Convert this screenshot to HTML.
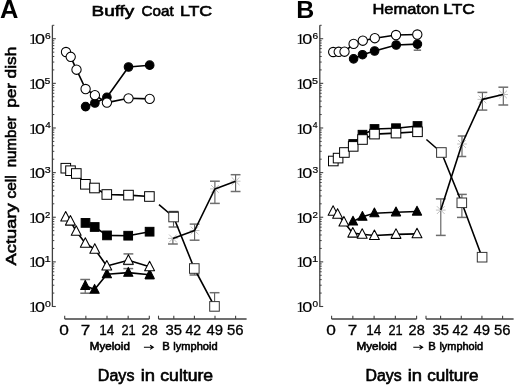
<!DOCTYPE html>
<html><head><meta charset="utf-8"><style>
html,body{margin:0;padding:0;background:#fff;}
svg{display:block;filter:grayscale(1) blur(0.3px);}
svg{font-family:"Liberation Sans",sans-serif;} text{fill:#000;}
</style></head><body>
<svg width="520" height="387" viewBox="0 0 520 387">
<rect width="520" height="387" fill="#fff"/>
<line x1="52.40" y1="25.29" x2="52.40" y2="307.10" stroke="#404040" stroke-width="1.3"/>
<line x1="52.40" y1="306.50" x2="55.80" y2="306.50" stroke="#404040" stroke-width="1.1"/>
<line x1="52.40" y1="261.87" x2="55.80" y2="261.87" stroke="#404040" stroke-width="1.1"/>
<line x1="52.40" y1="217.24" x2="55.80" y2="217.24" stroke="#404040" stroke-width="1.1"/>
<line x1="52.40" y1="172.61" x2="55.80" y2="172.61" stroke="#404040" stroke-width="1.1"/>
<line x1="52.40" y1="127.98" x2="55.80" y2="127.98" stroke="#404040" stroke-width="1.1"/>
<line x1="52.40" y1="83.35" x2="55.80" y2="83.35" stroke="#404040" stroke-width="1.1"/>
<line x1="52.40" y1="38.72" x2="55.80" y2="38.72" stroke="#404040" stroke-width="1.1"/>
<line x1="52.40" y1="293.07" x2="54.30" y2="293.07" stroke="#404040" stroke-width="1"/>
<line x1="52.40" y1="285.21" x2="54.30" y2="285.21" stroke="#404040" stroke-width="1"/>
<line x1="52.40" y1="279.63" x2="54.30" y2="279.63" stroke="#404040" stroke-width="1"/>
<line x1="52.40" y1="275.30" x2="54.30" y2="275.30" stroke="#404040" stroke-width="1"/>
<line x1="52.40" y1="271.77" x2="54.30" y2="271.77" stroke="#404040" stroke-width="1"/>
<line x1="52.40" y1="268.78" x2="54.30" y2="268.78" stroke="#404040" stroke-width="1"/>
<line x1="52.40" y1="266.20" x2="54.30" y2="266.20" stroke="#404040" stroke-width="1"/>
<line x1="52.40" y1="263.91" x2="54.30" y2="263.91" stroke="#404040" stroke-width="1"/>
<line x1="52.40" y1="248.44" x2="54.30" y2="248.44" stroke="#404040" stroke-width="1"/>
<line x1="52.40" y1="240.58" x2="54.30" y2="240.58" stroke="#404040" stroke-width="1"/>
<line x1="52.40" y1="235.00" x2="54.30" y2="235.00" stroke="#404040" stroke-width="1"/>
<line x1="52.40" y1="230.67" x2="54.30" y2="230.67" stroke="#404040" stroke-width="1"/>
<line x1="52.40" y1="227.14" x2="54.30" y2="227.14" stroke="#404040" stroke-width="1"/>
<line x1="52.40" y1="224.15" x2="54.30" y2="224.15" stroke="#404040" stroke-width="1"/>
<line x1="52.40" y1="221.57" x2="54.30" y2="221.57" stroke="#404040" stroke-width="1"/>
<line x1="52.40" y1="219.28" x2="54.30" y2="219.28" stroke="#404040" stroke-width="1"/>
<line x1="52.40" y1="203.81" x2="54.30" y2="203.81" stroke="#404040" stroke-width="1"/>
<line x1="52.40" y1="195.95" x2="54.30" y2="195.95" stroke="#404040" stroke-width="1"/>
<line x1="52.40" y1="190.37" x2="54.30" y2="190.37" stroke="#404040" stroke-width="1"/>
<line x1="52.40" y1="186.04" x2="54.30" y2="186.04" stroke="#404040" stroke-width="1"/>
<line x1="52.40" y1="182.51" x2="54.30" y2="182.51" stroke="#404040" stroke-width="1"/>
<line x1="52.40" y1="179.52" x2="54.30" y2="179.52" stroke="#404040" stroke-width="1"/>
<line x1="52.40" y1="176.94" x2="54.30" y2="176.94" stroke="#404040" stroke-width="1"/>
<line x1="52.40" y1="174.65" x2="54.30" y2="174.65" stroke="#404040" stroke-width="1"/>
<line x1="52.40" y1="159.18" x2="54.30" y2="159.18" stroke="#404040" stroke-width="1"/>
<line x1="52.40" y1="151.32" x2="54.30" y2="151.32" stroke="#404040" stroke-width="1"/>
<line x1="52.40" y1="145.74" x2="54.30" y2="145.74" stroke="#404040" stroke-width="1"/>
<line x1="52.40" y1="141.41" x2="54.30" y2="141.41" stroke="#404040" stroke-width="1"/>
<line x1="52.40" y1="137.88" x2="54.30" y2="137.88" stroke="#404040" stroke-width="1"/>
<line x1="52.40" y1="134.89" x2="54.30" y2="134.89" stroke="#404040" stroke-width="1"/>
<line x1="52.40" y1="132.31" x2="54.30" y2="132.31" stroke="#404040" stroke-width="1"/>
<line x1="52.40" y1="130.02" x2="54.30" y2="130.02" stroke="#404040" stroke-width="1"/>
<line x1="52.40" y1="114.55" x2="54.30" y2="114.55" stroke="#404040" stroke-width="1"/>
<line x1="52.40" y1="106.69" x2="54.30" y2="106.69" stroke="#404040" stroke-width="1"/>
<line x1="52.40" y1="101.11" x2="54.30" y2="101.11" stroke="#404040" stroke-width="1"/>
<line x1="52.40" y1="96.78" x2="54.30" y2="96.78" stroke="#404040" stroke-width="1"/>
<line x1="52.40" y1="93.25" x2="54.30" y2="93.25" stroke="#404040" stroke-width="1"/>
<line x1="52.40" y1="90.26" x2="54.30" y2="90.26" stroke="#404040" stroke-width="1"/>
<line x1="52.40" y1="87.68" x2="54.30" y2="87.68" stroke="#404040" stroke-width="1"/>
<line x1="52.40" y1="85.39" x2="54.30" y2="85.39" stroke="#404040" stroke-width="1"/>
<line x1="52.40" y1="69.92" x2="54.30" y2="69.92" stroke="#404040" stroke-width="1"/>
<line x1="52.40" y1="62.06" x2="54.30" y2="62.06" stroke="#404040" stroke-width="1"/>
<line x1="52.40" y1="56.48" x2="54.30" y2="56.48" stroke="#404040" stroke-width="1"/>
<line x1="52.40" y1="52.15" x2="54.30" y2="52.15" stroke="#404040" stroke-width="1"/>
<line x1="52.40" y1="48.62" x2="54.30" y2="48.62" stroke="#404040" stroke-width="1"/>
<line x1="52.40" y1="45.63" x2="54.30" y2="45.63" stroke="#404040" stroke-width="1"/>
<line x1="52.40" y1="43.05" x2="54.30" y2="43.05" stroke="#404040" stroke-width="1"/>
<line x1="52.40" y1="40.76" x2="54.30" y2="40.76" stroke="#404040" stroke-width="1"/>
<line x1="52.40" y1="25.29" x2="54.30" y2="25.29" stroke="#404040" stroke-width="1"/>
<line x1="64.70" y1="319.0" x2="149.30" y2="319.0" stroke="#404040" stroke-width="1.3"/>
<line x1="158.50" y1="319.0" x2="246.60" y2="319.0" stroke="#404040" stroke-width="1.3"/>
<line x1="64.70" y1="315.7" x2="64.70" y2="319.0" stroke="#404040" stroke-width="1.1"/>
<line x1="85.85" y1="315.7" x2="85.85" y2="319.0" stroke="#404040" stroke-width="1.1"/>
<line x1="107.00" y1="315.7" x2="107.00" y2="319.0" stroke="#404040" stroke-width="1.1"/>
<line x1="128.15" y1="315.7" x2="128.15" y2="319.0" stroke="#404040" stroke-width="1.1"/>
<line x1="149.30" y1="315.7" x2="149.30" y2="319.0" stroke="#404040" stroke-width="1.1"/>
<line x1="158.50" y1="315.7" x2="158.50" y2="319.0" stroke="#404040" stroke-width="1.1"/>
<line x1="173.80" y1="315.7" x2="173.80" y2="319.0" stroke="#404040" stroke-width="1.1"/>
<line x1="194.40" y1="315.7" x2="194.40" y2="319.0" stroke="#404040" stroke-width="1.1"/>
<line x1="215.00" y1="315.7" x2="215.00" y2="319.0" stroke="#404040" stroke-width="1.1"/>
<line x1="235.60" y1="315.7" x2="235.60" y2="319.0" stroke="#404040" stroke-width="1.1"/>
<polyline points="85.60,106.60 94.90,103.00 106.90,97.30 128.50,67.00 149.70,65.20" fill="none" stroke="#000" stroke-width="1.6" stroke-linejoin="round"/>
<polyline points="66.00,52.00 70.70,56.80 76.50,69.70 85.60,89.00 94.90,95.20 106.90,102.60 128.50,98.30 149.70,98.90" fill="none" stroke="#000" stroke-width="1.6" stroke-linejoin="round"/>
<polyline points="65.80,168.20 70.50,170.70 76.30,173.50 85.40,184.30 94.50,188.00 106.80,194.50 128.50,195.10 149.40,196.50" fill="none" stroke="#000" stroke-width="1.6" stroke-linejoin="round"/>
<polyline points="85.50,222.90 94.70,227.00 107.00,235.40 128.20,235.70 149.60,231.70" fill="none" stroke="#000" stroke-width="1.6" stroke-linejoin="round"/>
<polyline points="85.30,285.80 94.60,289.60 106.90,274.20 128.30,272.60 149.70,274.80" fill="none" stroke="#000" stroke-width="1.6" stroke-linejoin="round"/>
<polyline points="65.70,217.00 70.40,221.15 76.20,231.25 85.30,243.30 94.80,249.20 106.80,266.05 128.40,260.30 149.60,266.75" fill="none" stroke="#000" stroke-width="1.6" stroke-linejoin="round"/>
<line x1="128.40" y1="253.90" x2="128.40" y2="264.40" stroke="#5a5a5a" stroke-width="1.1"/>
<line x1="123.50" y1="253.90" x2="133.30" y2="253.90" stroke="#6e6e6e" stroke-width="1.5"/>
<line x1="123.50" y1="264.40" x2="133.30" y2="264.40" stroke="#6e6e6e" stroke-width="1.5"/>
<line x1="85.20" y1="279.50" x2="85.20" y2="293.20" stroke="#5a5a5a" stroke-width="1.1"/>
<line x1="80.30" y1="279.50" x2="90.10" y2="279.50" stroke="#6e6e6e" stroke-width="1.5"/>
<line x1="80.30" y1="293.20" x2="90.10" y2="293.20" stroke="#6e6e6e" stroke-width="1.5"/>
<line x1="128.30" y1="268.60" x2="128.30" y2="276.00" stroke="#5a5a5a" stroke-width="1.1"/>
<line x1="123.40" y1="268.60" x2="133.20" y2="268.60" stroke="#6e6e6e" stroke-width="1.5"/>
<line x1="149.70" y1="274.00" x2="149.70" y2="279.00" stroke="#5a5a5a" stroke-width="1.1"/>
<line x1="145.00" y1="279.00" x2="154.40" y2="279.00" stroke="#6e6e6e" stroke-width="1.5"/>
<circle cx="85.60" cy="106.60" r="4.3" fill="#000" stroke="#000" stroke-width="1.05"/>
<circle cx="94.90" cy="103.00" r="4.3" fill="#000" stroke="#000" stroke-width="1.05"/>
<circle cx="106.90" cy="97.30" r="4.3" fill="#000" stroke="#000" stroke-width="1.05"/>
<circle cx="128.50" cy="67.00" r="4.3" fill="#000" stroke="#000" stroke-width="1.05"/>
<circle cx="149.70" cy="65.20" r="4.3" fill="#000" stroke="#000" stroke-width="1.05"/>
<circle cx="66.00" cy="52.00" r="4.65" fill="#fff" stroke="#000" stroke-width="1.05"/>
<circle cx="70.70" cy="56.80" r="4.65" fill="#fff" stroke="#000" stroke-width="1.05"/>
<circle cx="76.50" cy="69.70" r="4.65" fill="#fff" stroke="#000" stroke-width="1.05"/>
<circle cx="85.60" cy="89.00" r="4.65" fill="#fff" stroke="#000" stroke-width="1.05"/>
<circle cx="94.90" cy="95.20" r="4.65" fill="#fff" stroke="#000" stroke-width="1.05"/>
<circle cx="106.90" cy="102.60" r="4.65" fill="#fff" stroke="#000" stroke-width="1.05"/>
<circle cx="128.50" cy="98.30" r="4.65" fill="#fff" stroke="#000" stroke-width="1.05"/>
<circle cx="149.70" cy="98.90" r="4.65" fill="#fff" stroke="#000" stroke-width="1.05"/>
<rect x="61.00" y="163.40" width="9.6" height="9.6" fill="#fff" stroke="#000" stroke-width="1.0"/>
<rect x="65.70" y="165.90" width="9.6" height="9.6" fill="#fff" stroke="#000" stroke-width="1.0"/>
<rect x="71.50" y="168.70" width="9.6" height="9.6" fill="#fff" stroke="#000" stroke-width="1.0"/>
<rect x="80.60" y="179.50" width="9.6" height="9.6" fill="#fff" stroke="#000" stroke-width="1.0"/>
<rect x="89.70" y="183.20" width="9.6" height="9.6" fill="#fff" stroke="#000" stroke-width="1.0"/>
<rect x="102.00" y="189.70" width="9.6" height="9.6" fill="#fff" stroke="#000" stroke-width="1.0"/>
<rect x="123.70" y="190.30" width="9.6" height="9.6" fill="#fff" stroke="#000" stroke-width="1.0"/>
<rect x="144.60" y="191.70" width="9.6" height="9.6" fill="#fff" stroke="#000" stroke-width="1.0"/>
<rect x="81.15" y="218.55" width="8.7" height="8.7" fill="#000" stroke="#000" stroke-width="1.0"/>
<rect x="90.35" y="222.65" width="8.7" height="8.7" fill="#000" stroke="#000" stroke-width="1.0"/>
<rect x="102.65" y="231.05" width="8.7" height="8.7" fill="#000" stroke="#000" stroke-width="1.0"/>
<rect x="123.85" y="231.35" width="8.7" height="8.7" fill="#000" stroke="#000" stroke-width="1.0"/>
<rect x="145.25" y="227.35" width="8.7" height="8.7" fill="#000" stroke="#000" stroke-width="1.0"/>
<polygon points="85.30,280.60 89.90,289.40 80.70,289.40" fill="#000" stroke="#000" stroke-width="1.05" stroke-linejoin="round"/>
<polygon points="94.60,284.40 99.20,293.20 90.00,293.20" fill="#000" stroke="#000" stroke-width="1.05" stroke-linejoin="round"/>
<polygon points="106.90,269.00 111.50,277.80 102.30,277.80" fill="#000" stroke="#000" stroke-width="1.05" stroke-linejoin="round"/>
<polygon points="128.30,267.40 132.90,276.20 123.70,276.20" fill="#000" stroke="#000" stroke-width="1.05" stroke-linejoin="round"/>
<polygon points="149.70,269.60 154.30,278.40 145.10,278.40" fill="#000" stroke="#000" stroke-width="1.05" stroke-linejoin="round"/>
<polygon points="65.70,211.45 70.65,220.95 60.75,220.95" fill="#fff" stroke="#000" stroke-width="1.05" stroke-linejoin="round"/>
<polygon points="70.40,215.60 75.35,225.10 65.45,225.10" fill="#fff" stroke="#000" stroke-width="1.05" stroke-linejoin="round"/>
<polygon points="76.20,225.70 81.15,235.20 71.25,235.20" fill="#fff" stroke="#000" stroke-width="1.05" stroke-linejoin="round"/>
<polygon points="85.30,237.75 90.25,247.25 80.35,247.25" fill="#fff" stroke="#000" stroke-width="1.05" stroke-linejoin="round"/>
<polygon points="94.80,243.65 99.75,253.15 89.85,253.15" fill="#fff" stroke="#000" stroke-width="1.05" stroke-linejoin="round"/>
<polygon points="106.80,260.50 111.75,270.00 101.85,270.00" fill="#fff" stroke="#000" stroke-width="1.05" stroke-linejoin="round"/>
<polygon points="128.40,254.75 133.35,264.25 123.45,264.25" fill="#fff" stroke="#000" stroke-width="1.05" stroke-linejoin="round"/>
<polygon points="149.60,261.20 154.55,270.70 144.65,270.70" fill="#fff" stroke="#000" stroke-width="1.05" stroke-linejoin="round"/>
<line x1="173.50" y1="211.50" x2="173.50" y2="227.00" stroke="#5a5a5a" stroke-width="1.1"/>
<line x1="168.60" y1="211.50" x2="178.40" y2="211.50" stroke="#6e6e6e" stroke-width="1.5"/>
<line x1="168.60" y1="227.00" x2="178.40" y2="227.00" stroke="#6e6e6e" stroke-width="1.5"/>
<line x1="194.50" y1="263.50" x2="194.50" y2="275.00" stroke="#5a5a5a" stroke-width="1.1"/>
<line x1="189.60" y1="275.00" x2="199.40" y2="275.00" stroke="#6e6e6e" stroke-width="1.5"/>
<line x1="214.60" y1="292.70" x2="214.60" y2="306.00" stroke="#5a5a5a" stroke-width="1.1"/>
<line x1="209.70" y1="292.70" x2="219.50" y2="292.70" stroke="#6e6e6e" stroke-width="1.5"/>
<line x1="172.90" y1="238.40" x2="172.90" y2="244.00" stroke="#5a5a5a" stroke-width="1.1"/>
<line x1="168.00" y1="244.00" x2="177.80" y2="244.00" stroke="#6e6e6e" stroke-width="1.5"/>
<line x1="194.60" y1="224.10" x2="194.60" y2="240.20" stroke="#5a5a5a" stroke-width="1.1"/>
<line x1="189.70" y1="224.10" x2="199.50" y2="224.10" stroke="#6e6e6e" stroke-width="1.5"/>
<line x1="189.70" y1="240.20" x2="199.50" y2="240.20" stroke="#6e6e6e" stroke-width="1.5"/>
<line x1="214.90" y1="181.20" x2="214.90" y2="203.40" stroke="#5a5a5a" stroke-width="1.1"/>
<line x1="210.00" y1="181.20" x2="219.80" y2="181.20" stroke="#6e6e6e" stroke-width="1.5"/>
<line x1="210.00" y1="203.40" x2="219.80" y2="203.40" stroke="#6e6e6e" stroke-width="1.5"/>
<line x1="235.60" y1="174.70" x2="235.60" y2="191.50" stroke="#5a5a5a" stroke-width="1.1"/>
<line x1="230.70" y1="174.70" x2="240.50" y2="174.70" stroke="#6e6e6e" stroke-width="1.5"/>
<line x1="230.70" y1="191.50" x2="240.50" y2="191.50" stroke="#6e6e6e" stroke-width="1.5"/>
<path d="M169.00,234.50 L176.80,242.30 M169.00,242.30 L176.80,234.50 M168.03,238.40 L177.78,238.40" stroke="#b8b8b8" stroke-width="0.9" fill="none"/>
<path d="M190.70,226.60 L198.50,234.40 M190.70,234.40 L198.50,226.60 M189.72,230.50 L199.47,230.50" stroke="#b8b8b8" stroke-width="0.9" fill="none"/>
<path d="M211.00,185.00 L218.80,192.80 M211.00,192.80 L218.80,185.00 M210.03,188.90 L219.78,188.90" stroke="#b8b8b8" stroke-width="0.9" fill="none"/>
<path d="M231.70,177.30 L239.50,185.10 M231.70,185.10 L239.50,177.30 M230.72,181.20 L240.47,181.20" stroke="#b8b8b8" stroke-width="0.9" fill="none"/>
<polyline points="159.00,204.60 173.60,217.00 194.30,268.50 214.50,306.40" fill="none" stroke="#000" stroke-width="1.6" stroke-linejoin="round"/>
<polyline points="172.90,238.40 194.60,230.50 214.90,188.90 235.60,181.20" fill="none" stroke="#000" stroke-width="1.6" stroke-linejoin="round"/>
<rect x="168.80" y="212.20" width="9.6" height="9.6" fill="#fff" stroke="#333" stroke-width="1.0"/>
<rect x="189.50" y="263.70" width="9.6" height="9.6" fill="#fff" stroke="#333" stroke-width="1.0"/>
<rect x="209.70" y="301.60" width="9.6" height="9.6" fill="#fff" stroke="#333" stroke-width="1.0"/>
<line x1="168.8" y1="211.8" x2="178.4" y2="211.8" stroke="#333" stroke-width="1.5"/>
<line x1="319.80" y1="25.29" x2="319.80" y2="307.10" stroke="#404040" stroke-width="1.3"/>
<line x1="319.80" y1="306.50" x2="323.20" y2="306.50" stroke="#404040" stroke-width="1.1"/>
<line x1="319.80" y1="261.87" x2="323.20" y2="261.87" stroke="#404040" stroke-width="1.1"/>
<line x1="319.80" y1="217.24" x2="323.20" y2="217.24" stroke="#404040" stroke-width="1.1"/>
<line x1="319.80" y1="172.61" x2="323.20" y2="172.61" stroke="#404040" stroke-width="1.1"/>
<line x1="319.80" y1="127.98" x2="323.20" y2="127.98" stroke="#404040" stroke-width="1.1"/>
<line x1="319.80" y1="83.35" x2="323.20" y2="83.35" stroke="#404040" stroke-width="1.1"/>
<line x1="319.80" y1="38.72" x2="323.20" y2="38.72" stroke="#404040" stroke-width="1.1"/>
<line x1="319.80" y1="293.07" x2="321.70" y2="293.07" stroke="#404040" stroke-width="1"/>
<line x1="319.80" y1="285.21" x2="321.70" y2="285.21" stroke="#404040" stroke-width="1"/>
<line x1="319.80" y1="279.63" x2="321.70" y2="279.63" stroke="#404040" stroke-width="1"/>
<line x1="319.80" y1="275.30" x2="321.70" y2="275.30" stroke="#404040" stroke-width="1"/>
<line x1="319.80" y1="271.77" x2="321.70" y2="271.77" stroke="#404040" stroke-width="1"/>
<line x1="319.80" y1="268.78" x2="321.70" y2="268.78" stroke="#404040" stroke-width="1"/>
<line x1="319.80" y1="266.20" x2="321.70" y2="266.20" stroke="#404040" stroke-width="1"/>
<line x1="319.80" y1="263.91" x2="321.70" y2="263.91" stroke="#404040" stroke-width="1"/>
<line x1="319.80" y1="248.44" x2="321.70" y2="248.44" stroke="#404040" stroke-width="1"/>
<line x1="319.80" y1="240.58" x2="321.70" y2="240.58" stroke="#404040" stroke-width="1"/>
<line x1="319.80" y1="235.00" x2="321.70" y2="235.00" stroke="#404040" stroke-width="1"/>
<line x1="319.80" y1="230.67" x2="321.70" y2="230.67" stroke="#404040" stroke-width="1"/>
<line x1="319.80" y1="227.14" x2="321.70" y2="227.14" stroke="#404040" stroke-width="1"/>
<line x1="319.80" y1="224.15" x2="321.70" y2="224.15" stroke="#404040" stroke-width="1"/>
<line x1="319.80" y1="221.57" x2="321.70" y2="221.57" stroke="#404040" stroke-width="1"/>
<line x1="319.80" y1="219.28" x2="321.70" y2="219.28" stroke="#404040" stroke-width="1"/>
<line x1="319.80" y1="203.81" x2="321.70" y2="203.81" stroke="#404040" stroke-width="1"/>
<line x1="319.80" y1="195.95" x2="321.70" y2="195.95" stroke="#404040" stroke-width="1"/>
<line x1="319.80" y1="190.37" x2="321.70" y2="190.37" stroke="#404040" stroke-width="1"/>
<line x1="319.80" y1="186.04" x2="321.70" y2="186.04" stroke="#404040" stroke-width="1"/>
<line x1="319.80" y1="182.51" x2="321.70" y2="182.51" stroke="#404040" stroke-width="1"/>
<line x1="319.80" y1="179.52" x2="321.70" y2="179.52" stroke="#404040" stroke-width="1"/>
<line x1="319.80" y1="176.94" x2="321.70" y2="176.94" stroke="#404040" stroke-width="1"/>
<line x1="319.80" y1="174.65" x2="321.70" y2="174.65" stroke="#404040" stroke-width="1"/>
<line x1="319.80" y1="159.18" x2="321.70" y2="159.18" stroke="#404040" stroke-width="1"/>
<line x1="319.80" y1="151.32" x2="321.70" y2="151.32" stroke="#404040" stroke-width="1"/>
<line x1="319.80" y1="145.74" x2="321.70" y2="145.74" stroke="#404040" stroke-width="1"/>
<line x1="319.80" y1="141.41" x2="321.70" y2="141.41" stroke="#404040" stroke-width="1"/>
<line x1="319.80" y1="137.88" x2="321.70" y2="137.88" stroke="#404040" stroke-width="1"/>
<line x1="319.80" y1="134.89" x2="321.70" y2="134.89" stroke="#404040" stroke-width="1"/>
<line x1="319.80" y1="132.31" x2="321.70" y2="132.31" stroke="#404040" stroke-width="1"/>
<line x1="319.80" y1="130.02" x2="321.70" y2="130.02" stroke="#404040" stroke-width="1"/>
<line x1="319.80" y1="114.55" x2="321.70" y2="114.55" stroke="#404040" stroke-width="1"/>
<line x1="319.80" y1="106.69" x2="321.70" y2="106.69" stroke="#404040" stroke-width="1"/>
<line x1="319.80" y1="101.11" x2="321.70" y2="101.11" stroke="#404040" stroke-width="1"/>
<line x1="319.80" y1="96.78" x2="321.70" y2="96.78" stroke="#404040" stroke-width="1"/>
<line x1="319.80" y1="93.25" x2="321.70" y2="93.25" stroke="#404040" stroke-width="1"/>
<line x1="319.80" y1="90.26" x2="321.70" y2="90.26" stroke="#404040" stroke-width="1"/>
<line x1="319.80" y1="87.68" x2="321.70" y2="87.68" stroke="#404040" stroke-width="1"/>
<line x1="319.80" y1="85.39" x2="321.70" y2="85.39" stroke="#404040" stroke-width="1"/>
<line x1="319.80" y1="69.92" x2="321.70" y2="69.92" stroke="#404040" stroke-width="1"/>
<line x1="319.80" y1="62.06" x2="321.70" y2="62.06" stroke="#404040" stroke-width="1"/>
<line x1="319.80" y1="56.48" x2="321.70" y2="56.48" stroke="#404040" stroke-width="1"/>
<line x1="319.80" y1="52.15" x2="321.70" y2="52.15" stroke="#404040" stroke-width="1"/>
<line x1="319.80" y1="48.62" x2="321.70" y2="48.62" stroke="#404040" stroke-width="1"/>
<line x1="319.80" y1="45.63" x2="321.70" y2="45.63" stroke="#404040" stroke-width="1"/>
<line x1="319.80" y1="43.05" x2="321.70" y2="43.05" stroke="#404040" stroke-width="1"/>
<line x1="319.80" y1="40.76" x2="321.70" y2="40.76" stroke="#404040" stroke-width="1"/>
<line x1="319.80" y1="25.29" x2="321.70" y2="25.29" stroke="#404040" stroke-width="1"/>
<line x1="331.60" y1="319.0" x2="416.60" y2="319.0" stroke="#404040" stroke-width="1.3"/>
<line x1="426.00" y1="319.0" x2="513.60" y2="319.0" stroke="#404040" stroke-width="1.3"/>
<line x1="331.60" y1="315.7" x2="331.60" y2="319.0" stroke="#404040" stroke-width="1.1"/>
<line x1="352.85" y1="315.7" x2="352.85" y2="319.0" stroke="#404040" stroke-width="1.1"/>
<line x1="374.10" y1="315.7" x2="374.10" y2="319.0" stroke="#404040" stroke-width="1.1"/>
<line x1="395.35" y1="315.7" x2="395.35" y2="319.0" stroke="#404040" stroke-width="1.1"/>
<line x1="416.60" y1="315.7" x2="416.60" y2="319.0" stroke="#404040" stroke-width="1.1"/>
<line x1="426.00" y1="315.7" x2="426.00" y2="319.0" stroke="#404040" stroke-width="1.1"/>
<line x1="440.60" y1="315.7" x2="440.60" y2="319.0" stroke="#404040" stroke-width="1.1"/>
<line x1="461.27" y1="315.7" x2="461.27" y2="319.0" stroke="#404040" stroke-width="1.1"/>
<line x1="481.93" y1="315.7" x2="481.93" y2="319.0" stroke="#404040" stroke-width="1.1"/>
<line x1="502.60" y1="315.7" x2="502.60" y2="319.0" stroke="#404040" stroke-width="1.1"/>
<polyline points="333.20,52.00 338.70,51.80 344.50,51.70 353.60,43.90 362.80,40.70 374.80,38.20 396.00,35.00 417.30,34.50" fill="none" stroke="#000" stroke-width="1.6" stroke-linejoin="round"/>
<polyline points="353.60,58.80 362.50,54.70 374.60,51.00 396.20,45.00 417.40,44.10" fill="none" stroke="#000" stroke-width="1.6" stroke-linejoin="round"/>
<polyline points="353.20,144.00 362.50,134.70 374.50,129.00 396.00,128.20 417.50,126.00" fill="none" stroke="#000" stroke-width="1.6" stroke-linejoin="round"/>
<polyline points="333.30,161.00 338.10,158.10 344.40,152.50 353.20,146.40 362.50,139.50 374.50,134.10 396.00,133.10 417.50,131.80" fill="none" stroke="#000" stroke-width="1.6" stroke-linejoin="round"/>
<polyline points="353.00,221.45 362.40,216.65 374.40,213.20 396.00,212.25 417.00,211.50" fill="none" stroke="#000" stroke-width="1.6" stroke-linejoin="round"/>
<polyline points="333.10,211.25 337.60,214.20 343.90,221.95 352.80,233.15 362.20,234.25 374.40,235.55 396.00,234.40 417.00,233.85" fill="none" stroke="#000" stroke-width="1.6" stroke-linejoin="round"/>
<line x1="417.40" y1="44.10" x2="417.40" y2="50.20" stroke="#5a5a5a" stroke-width="1.1"/>
<line x1="413.70" y1="50.20" x2="421.10" y2="50.20" stroke="#6e6e6e" stroke-width="1.5"/>
<circle cx="333.20" cy="52.00" r="4.65" fill="#fff" stroke="#000" stroke-width="1.05"/>
<circle cx="338.70" cy="51.80" r="4.65" fill="#fff" stroke="#000" stroke-width="1.05"/>
<circle cx="344.50" cy="51.70" r="4.65" fill="#fff" stroke="#000" stroke-width="1.05"/>
<circle cx="353.60" cy="43.90" r="4.65" fill="#fff" stroke="#000" stroke-width="1.05"/>
<circle cx="362.80" cy="40.70" r="4.65" fill="#fff" stroke="#000" stroke-width="1.05"/>
<circle cx="374.80" cy="38.20" r="4.65" fill="#fff" stroke="#000" stroke-width="1.05"/>
<circle cx="396.00" cy="35.00" r="4.65" fill="#fff" stroke="#000" stroke-width="1.05"/>
<circle cx="417.30" cy="34.50" r="4.65" fill="#fff" stroke="#000" stroke-width="1.05"/>
<circle cx="353.60" cy="58.80" r="4.3" fill="#000" stroke="#000" stroke-width="1.05"/>
<circle cx="362.50" cy="54.70" r="4.3" fill="#000" stroke="#000" stroke-width="1.05"/>
<circle cx="374.60" cy="51.00" r="4.3" fill="#000" stroke="#000" stroke-width="1.05"/>
<circle cx="396.20" cy="45.00" r="4.3" fill="#000" stroke="#000" stroke-width="1.05"/>
<circle cx="417.40" cy="44.10" r="4.3" fill="#000" stroke="#000" stroke-width="1.05"/>
<rect x="348.85" y="139.65" width="8.7" height="8.7" fill="#000" stroke="#000" stroke-width="1.0"/>
<rect x="358.15" y="130.35" width="8.7" height="8.7" fill="#000" stroke="#000" stroke-width="1.0"/>
<rect x="370.15" y="124.65" width="8.7" height="8.7" fill="#000" stroke="#000" stroke-width="1.0"/>
<rect x="391.65" y="123.85" width="8.7" height="8.7" fill="#000" stroke="#000" stroke-width="1.0"/>
<rect x="413.15" y="121.65" width="8.7" height="8.7" fill="#000" stroke="#000" stroke-width="1.0"/>
<rect x="328.50" y="156.20" width="9.6" height="9.6" fill="#fff" stroke="#000" stroke-width="1.0"/>
<rect x="333.30" y="153.30" width="9.6" height="9.6" fill="#fff" stroke="#000" stroke-width="1.0"/>
<rect x="339.60" y="147.70" width="9.6" height="9.6" fill="#fff" stroke="#000" stroke-width="1.0"/>
<rect x="348.40" y="141.60" width="9.6" height="9.6" fill="#fff" stroke="#000" stroke-width="1.0"/>
<rect x="357.70" y="134.70" width="9.6" height="9.6" fill="#fff" stroke="#000" stroke-width="1.0"/>
<rect x="369.70" y="129.30" width="9.6" height="9.6" fill="#fff" stroke="#000" stroke-width="1.0"/>
<rect x="391.20" y="128.30" width="9.6" height="9.6" fill="#fff" stroke="#000" stroke-width="1.0"/>
<rect x="412.70" y="127.00" width="9.6" height="9.6" fill="#fff" stroke="#000" stroke-width="1.0"/>
<polygon points="353.00,216.25 357.60,225.05 348.40,225.05" fill="#000" stroke="#000" stroke-width="1.05" stroke-linejoin="round"/>
<polygon points="362.40,211.45 367.00,220.25 357.80,220.25" fill="#000" stroke="#000" stroke-width="1.05" stroke-linejoin="round"/>
<polygon points="374.40,208.00 379.00,216.80 369.80,216.80" fill="#000" stroke="#000" stroke-width="1.05" stroke-linejoin="round"/>
<polygon points="396.00,207.05 400.60,215.85 391.40,215.85" fill="#000" stroke="#000" stroke-width="1.05" stroke-linejoin="round"/>
<polygon points="417.00,206.30 421.60,215.10 412.40,215.10" fill="#000" stroke="#000" stroke-width="1.05" stroke-linejoin="round"/>
<polygon points="333.10,205.70 338.05,215.20 328.15,215.20" fill="#fff" stroke="#000" stroke-width="1.05" stroke-linejoin="round"/>
<polygon points="337.60,208.65 342.55,218.15 332.65,218.15" fill="#fff" stroke="#000" stroke-width="1.05" stroke-linejoin="round"/>
<polygon points="343.90,216.40 348.85,225.90 338.95,225.90" fill="#fff" stroke="#000" stroke-width="1.05" stroke-linejoin="round"/>
<polygon points="352.80,227.60 357.75,237.10 347.85,237.10" fill="#fff" stroke="#000" stroke-width="1.05" stroke-linejoin="round"/>
<polygon points="362.20,228.70 367.15,238.20 357.25,238.20" fill="#fff" stroke="#000" stroke-width="1.05" stroke-linejoin="round"/>
<polygon points="374.40,230.00 379.35,239.50 369.45,239.50" fill="#fff" stroke="#000" stroke-width="1.05" stroke-linejoin="round"/>
<polygon points="396.00,228.85 400.95,238.35 391.05,238.35" fill="#fff" stroke="#000" stroke-width="1.05" stroke-linejoin="round"/>
<polygon points="417.00,228.30 421.95,237.80 412.05,237.80" fill="#fff" stroke="#000" stroke-width="1.05" stroke-linejoin="round"/>
<line x1="461.90" y1="194.40" x2="461.90" y2="217.40" stroke="#5a5a5a" stroke-width="1.1"/>
<line x1="457.00" y1="194.40" x2="466.80" y2="194.40" stroke="#6e6e6e" stroke-width="1.5"/>
<line x1="457.00" y1="217.40" x2="466.80" y2="217.40" stroke="#6e6e6e" stroke-width="1.5"/>
<line x1="440.80" y1="198.90" x2="440.80" y2="235.40" stroke="#5a5a5a" stroke-width="1.1"/>
<line x1="435.90" y1="198.90" x2="445.70" y2="198.90" stroke="#6e6e6e" stroke-width="1.5"/>
<line x1="435.90" y1="235.40" x2="445.70" y2="235.40" stroke="#6e6e6e" stroke-width="1.5"/>
<line x1="462.00" y1="136.00" x2="462.00" y2="156.50" stroke="#5a5a5a" stroke-width="1.1"/>
<line x1="457.75" y1="136.00" x2="466.25" y2="136.00" stroke="#6e6e6e" stroke-width="1.5"/>
<line x1="457.75" y1="156.50" x2="466.25" y2="156.50" stroke="#6e6e6e" stroke-width="1.5"/>
<line x1="482.40" y1="92.40" x2="482.40" y2="110.10" stroke="#5a5a5a" stroke-width="1.1"/>
<line x1="477.50" y1="92.40" x2="487.30" y2="92.40" stroke="#6e6e6e" stroke-width="1.5"/>
<line x1="477.50" y1="110.10" x2="487.30" y2="110.10" stroke="#6e6e6e" stroke-width="1.5"/>
<line x1="503.30" y1="87.20" x2="503.30" y2="105.00" stroke="#5a5a5a" stroke-width="1.1"/>
<line x1="498.40" y1="87.20" x2="508.20" y2="87.20" stroke="#6e6e6e" stroke-width="1.5"/>
<line x1="498.40" y1="105.00" x2="508.20" y2="105.00" stroke="#6e6e6e" stroke-width="1.5"/>
<path d="M436.90,206.20 L444.70,214.00 M436.90,214.00 L444.70,206.20 M435.93,210.10 L445.68,210.10" stroke="#b8b8b8" stroke-width="0.9" fill="none"/>
<path d="M458.10,140.10 L465.90,147.90 M458.10,147.90 L465.90,140.10 M457.12,144.00 L466.88,144.00" stroke="#b8b8b8" stroke-width="0.9" fill="none"/>
<path d="M478.50,95.50 L486.30,103.30 M478.50,103.30 L486.30,95.50 M477.52,99.40 L487.27,99.40" stroke="#b8b8b8" stroke-width="0.9" fill="none"/>
<path d="M499.20,90.60 L507.00,98.40 M499.20,98.40 L507.00,90.60 M498.23,94.50 L507.98,94.50" stroke="#b8b8b8" stroke-width="0.9" fill="none"/>
<polyline points="426.40,139.50 441.40,152.50 461.80,202.80 482.10,257.20" fill="none" stroke="#000" stroke-width="1.6" stroke-linejoin="round"/>
<polyline points="440.80,210.10 462.00,144.00 482.40,99.40 503.10,94.50" fill="none" stroke="#000" stroke-width="1.6" stroke-linejoin="round"/>
<rect x="436.60" y="147.70" width="9.6" height="9.6" fill="#fff" stroke="#333" stroke-width="1.0"/>
<rect x="457.00" y="198.00" width="9.6" height="9.6" fill="#fff" stroke="#333" stroke-width="1.0"/>
<rect x="477.30" y="252.40" width="9.6" height="9.6" fill="#fff" stroke="#333" stroke-width="1.0"/>
<text x="0.0" y="17.6" font-size="25" font-weight="bold" textLength="18.4" lengthAdjust="spacingAndGlyphs">A</text>
<text x="296.3" y="18.2" font-size="24.2" font-weight="bold" textLength="18.0" lengthAdjust="spacingAndGlyphs">B</text>
<text x="91.53" y="15.7" font-size="15.0" stroke="#000" stroke-width="0.6" textLength="42.85" lengthAdjust="spacingAndGlyphs">Buffy</text>
<text x="141.57" y="15.7" font-size="15.0" stroke="#000" stroke-width="0.6" textLength="32.12" lengthAdjust="spacingAndGlyphs">Coat</text>
<text x="179.90" y="15.7" font-size="15.0" stroke="#000" stroke-width="0.6" textLength="32.26" lengthAdjust="spacingAndGlyphs">LTC</text>
<text x="372.40" y="14.0" font-size="15.4" stroke="#000" stroke-width="0.6" textLength="66.81" lengthAdjust="spacingAndGlyphs">Hematon</text>
<text x="443.33" y="14.0" font-size="15.4" stroke="#000" stroke-width="0.6" textLength="31.36" lengthAdjust="spacingAndGlyphs">LTC</text>
<text x="97.85" y="380.7" font-size="15.6" stroke="#000" stroke-width="0.6" textLength="36.56" lengthAdjust="spacingAndGlyphs">Days</text>
<text x="140.77" y="380.7" font-size="15.6" stroke="#000" stroke-width="0.6" textLength="14.33" lengthAdjust="spacingAndGlyphs">in</text>
<text x="160.34" y="380.7" font-size="15.6" stroke="#000" stroke-width="0.6" textLength="52.77" lengthAdjust="spacingAndGlyphs">culture</text>
<text x="365.45" y="380.7" font-size="15.6" stroke="#000" stroke-width="0.6" textLength="36.17" lengthAdjust="spacingAndGlyphs">Days</text>
<text x="407.70" y="380.7" font-size="15.6" stroke="#000" stroke-width="0.6" textLength="14.35" lengthAdjust="spacingAndGlyphs">in</text>
<text x="427.18" y="380.7" font-size="15.6" stroke="#000" stroke-width="0.6" textLength="51.27" lengthAdjust="spacingAndGlyphs">culture</text>
<text x="89.84" y="349.5" font-size="10.2" stroke="#000" stroke-width="0.55" textLength="40.06" lengthAdjust="spacingAndGlyphs">Myeloid</text>
<text x="162.19" y="349.6" font-size="10.2" stroke="#000" stroke-width="0.55" textLength="7.52" lengthAdjust="spacingAndGlyphs">B</text>
<text x="173.32" y="349.6" font-size="10.2" stroke="#000" stroke-width="0.55" textLength="44.22" lengthAdjust="spacingAndGlyphs">lymphoid</text>
<text x="356.43" y="349.5" font-size="10.2" stroke="#000" stroke-width="0.55" textLength="40.38" lengthAdjust="spacingAndGlyphs">Myeloid</text>
<text x="428.37" y="349.6" font-size="10.2" stroke="#000" stroke-width="0.55" textLength="7.53" lengthAdjust="spacingAndGlyphs">B</text>
<text x="439.46" y="349.6" font-size="10.2" stroke="#000" stroke-width="0.55" textLength="43.64" lengthAdjust="spacingAndGlyphs">lymphoid</text>
<text x="59.23" y="335.4" font-size="14.2" stroke="#000" stroke-width="0.3" textLength="9.60" lengthAdjust="spacingAndGlyphs">0</text>
<text x="80.72" y="335.4" font-size="14.2" stroke="#000" stroke-width="0.3" textLength="9.50" lengthAdjust="spacingAndGlyphs">7</text>
<text x="99.35" y="335.4" font-size="14.2" stroke="#000" stroke-width="0.3" textLength="15.06" lengthAdjust="spacingAndGlyphs">14</text>
<text x="121.38" y="335.4" font-size="14.2" stroke="#000" stroke-width="0.3" textLength="14.21" lengthAdjust="spacingAndGlyphs">21</text>
<text x="141.64" y="335.4" font-size="14.2" stroke="#000" stroke-width="0.3" textLength="16.17" lengthAdjust="spacingAndGlyphs">28</text>
<text x="165.46" y="335.4" font-size="14.2" stroke="#000" stroke-width="0.3" textLength="16.47" lengthAdjust="spacingAndGlyphs">35</text>
<text x="185.42" y="335.4" font-size="14.2" stroke="#000" stroke-width="0.3" textLength="15.68" lengthAdjust="spacingAndGlyphs">42</text>
<text x="206.57" y="335.4" font-size="14.2" stroke="#000" stroke-width="0.3" textLength="16.52" lengthAdjust="spacingAndGlyphs">49</text>
<text x="227.09" y="335.4" font-size="14.2" stroke="#000" stroke-width="0.3" textLength="16.56" lengthAdjust="spacingAndGlyphs">56</text>
<text x="326.23" y="335.4" font-size="14.2" stroke="#000" stroke-width="0.3" textLength="9.60" lengthAdjust="spacingAndGlyphs">0</text>
<text x="347.72" y="335.4" font-size="14.2" stroke="#000" stroke-width="0.3" textLength="9.50" lengthAdjust="spacingAndGlyphs">7</text>
<text x="366.35" y="335.4" font-size="14.2" stroke="#000" stroke-width="0.3" textLength="15.06" lengthAdjust="spacingAndGlyphs">14</text>
<text x="388.38" y="335.4" font-size="14.2" stroke="#000" stroke-width="0.3" textLength="14.21" lengthAdjust="spacingAndGlyphs">21</text>
<text x="408.64" y="335.4" font-size="14.2" stroke="#000" stroke-width="0.3" textLength="16.17" lengthAdjust="spacingAndGlyphs">28</text>
<text x="432.46" y="335.4" font-size="14.2" stroke="#000" stroke-width="0.3" textLength="16.47" lengthAdjust="spacingAndGlyphs">35</text>
<text x="452.42" y="335.4" font-size="14.2" stroke="#000" stroke-width="0.3" textLength="15.68" lengthAdjust="spacingAndGlyphs">42</text>
<text x="473.57" y="335.4" font-size="14.2" stroke="#000" stroke-width="0.3" textLength="16.52" lengthAdjust="spacingAndGlyphs">49</text>
<text x="494.09" y="335.4" font-size="14.2" stroke="#000" stroke-width="0.3" textLength="16.56" lengthAdjust="spacingAndGlyphs">56</text>
<text x="29.03" y="312.1" font-family="Liberation Serif" font-size="14.6" stroke="#000" stroke-width="0.15" textLength="8.05" lengthAdjust="spacingAndGlyphs">1</text>
<text x="34.91" y="312.1" font-size="14.2" stroke="#000" stroke-width="0.15" textLength="10.02" lengthAdjust="spacingAndGlyphs">0</text>
<text x="44.95" y="306.8" font-size="9.4" stroke="#000" stroke-width="0.2" textLength="5.85" lengthAdjust="spacingAndGlyphs">0</text>
<text x="29.03" y="267.47" font-family="Liberation Serif" font-size="14.6" stroke="#000" stroke-width="0.15" textLength="8.05" lengthAdjust="spacingAndGlyphs">1</text>
<text x="34.91" y="267.47" font-size="14.2" stroke="#000" stroke-width="0.15" textLength="10.02" lengthAdjust="spacingAndGlyphs">0</text>
<text x="44.60" y="262.17" font-size="9.4" stroke="#000" stroke-width="0.2" textLength="6.26" lengthAdjust="spacingAndGlyphs">1</text>
<text x="29.03" y="222.84" font-family="Liberation Serif" font-size="14.6" stroke="#000" stroke-width="0.15" textLength="8.05" lengthAdjust="spacingAndGlyphs">1</text>
<text x="34.91" y="222.84" font-size="14.2" stroke="#000" stroke-width="0.15" textLength="10.02" lengthAdjust="spacingAndGlyphs">0</text>
<text x="45.05" y="217.54" font-size="9.4" stroke="#000" stroke-width="0.2" textLength="5.29" lengthAdjust="spacingAndGlyphs">2</text>
<text x="29.03" y="178.21" font-family="Liberation Serif" font-size="14.6" stroke="#000" stroke-width="0.15" textLength="8.05" lengthAdjust="spacingAndGlyphs">1</text>
<text x="34.91" y="178.21" font-size="14.2" stroke="#000" stroke-width="0.15" textLength="10.02" lengthAdjust="spacingAndGlyphs">0</text>
<text x="44.80" y="172.91" font-size="9.4" stroke="#000" stroke-width="0.2" textLength="5.94" lengthAdjust="spacingAndGlyphs">3</text>
<text x="29.03" y="133.58" font-family="Liberation Serif" font-size="14.6" stroke="#000" stroke-width="0.15" textLength="8.05" lengthAdjust="spacingAndGlyphs">1</text>
<text x="34.91" y="133.58" font-size="14.2" stroke="#000" stroke-width="0.15" textLength="10.02" lengthAdjust="spacingAndGlyphs">0</text>
<text x="45.20" y="128.28" font-size="9.4" stroke="#000" stroke-width="0.2" textLength="5.50" lengthAdjust="spacingAndGlyphs">4</text>
<text x="29.03" y="88.95" font-family="Liberation Serif" font-size="14.6" stroke="#000" stroke-width="0.15" textLength="8.05" lengthAdjust="spacingAndGlyphs">1</text>
<text x="34.91" y="88.95" font-size="14.2" stroke="#000" stroke-width="0.15" textLength="10.02" lengthAdjust="spacingAndGlyphs">0</text>
<text x="44.51" y="83.65" font-size="9.4" stroke="#000" stroke-width="0.2" textLength="5.82" lengthAdjust="spacingAndGlyphs">5</text>
<text x="29.03" y="44.32" font-family="Liberation Serif" font-size="14.6" stroke="#000" stroke-width="0.15" textLength="8.05" lengthAdjust="spacingAndGlyphs">1</text>
<text x="34.91" y="44.32" font-size="14.2" stroke="#000" stroke-width="0.15" textLength="10.02" lengthAdjust="spacingAndGlyphs">0</text>
<text x="45.08" y="39.02" font-size="9.4" stroke="#000" stroke-width="0.2" textLength="5.70" lengthAdjust="spacingAndGlyphs">6</text>
<text x="296.55" y="312.1" font-family="Liberation Serif" font-size="14.6" stroke="#000" stroke-width="0.15" textLength="7.71" lengthAdjust="spacingAndGlyphs">1</text>
<text x="302.35" y="312.1" font-size="14.2" stroke="#000" stroke-width="0.15" textLength="10.05" lengthAdjust="spacingAndGlyphs">0</text>
<text x="312.62" y="306.8" font-size="9.4" stroke="#000" stroke-width="0.2" textLength="5.59" lengthAdjust="spacingAndGlyphs">0</text>
<text x="296.55" y="267.47" font-family="Liberation Serif" font-size="14.6" stroke="#000" stroke-width="0.15" textLength="7.71" lengthAdjust="spacingAndGlyphs">1</text>
<text x="302.35" y="267.47" font-size="14.2" stroke="#000" stroke-width="0.15" textLength="10.05" lengthAdjust="spacingAndGlyphs">0</text>
<text x="312.13" y="262.17" font-size="9.4" stroke="#000" stroke-width="0.2" textLength="6.23" lengthAdjust="spacingAndGlyphs">1</text>
<text x="296.55" y="222.84" font-family="Liberation Serif" font-size="14.6" stroke="#000" stroke-width="0.15" textLength="7.71" lengthAdjust="spacingAndGlyphs">1</text>
<text x="302.35" y="222.84" font-size="14.2" stroke="#000" stroke-width="0.15" textLength="10.05" lengthAdjust="spacingAndGlyphs">0</text>
<text x="312.61" y="217.54" font-size="9.4" stroke="#000" stroke-width="0.2" textLength="5.43" lengthAdjust="spacingAndGlyphs">2</text>
<text x="296.55" y="178.21" font-family="Liberation Serif" font-size="14.6" stroke="#000" stroke-width="0.15" textLength="7.71" lengthAdjust="spacingAndGlyphs">1</text>
<text x="302.35" y="178.21" font-size="14.2" stroke="#000" stroke-width="0.15" textLength="10.05" lengthAdjust="spacingAndGlyphs">0</text>
<text x="312.54" y="172.91" font-size="9.4" stroke="#000" stroke-width="0.2" textLength="5.73" lengthAdjust="spacingAndGlyphs">3</text>
<text x="296.55" y="133.58" font-family="Liberation Serif" font-size="14.6" stroke="#000" stroke-width="0.15" textLength="7.71" lengthAdjust="spacingAndGlyphs">1</text>
<text x="302.35" y="133.58" font-size="14.2" stroke="#000" stroke-width="0.15" textLength="10.05" lengthAdjust="spacingAndGlyphs">0</text>
<text x="312.84" y="128.28" font-size="9.4" stroke="#000" stroke-width="0.2" textLength="4.81" lengthAdjust="spacingAndGlyphs">4</text>
<text x="296.55" y="88.95" font-family="Liberation Serif" font-size="14.6" stroke="#000" stroke-width="0.15" textLength="7.71" lengthAdjust="spacingAndGlyphs">1</text>
<text x="302.35" y="88.95" font-size="14.2" stroke="#000" stroke-width="0.15" textLength="10.05" lengthAdjust="spacingAndGlyphs">0</text>
<text x="312.08" y="83.65" font-size="9.4" stroke="#000" stroke-width="0.2" textLength="5.99" lengthAdjust="spacingAndGlyphs">5</text>
<text x="296.55" y="44.32" font-family="Liberation Serif" font-size="14.6" stroke="#000" stroke-width="0.15" textLength="7.71" lengthAdjust="spacingAndGlyphs">1</text>
<text x="302.35" y="44.32" font-size="14.2" stroke="#000" stroke-width="0.15" textLength="10.05" lengthAdjust="spacingAndGlyphs">0</text>
<text x="312.57" y="39.02" font-size="9.4" stroke="#000" stroke-width="0.2" textLength="5.69" lengthAdjust="spacingAndGlyphs">6</text>
<text transform="translate(15.6,265.40) rotate(-90)" x="0" y="0" font-size="15.2" stroke="#000" stroke-width="0.6" textLength="62.00" lengthAdjust="spacingAndGlyphs">Actuary</text>
<text transform="translate(15.6,198.60) rotate(-90)" x="0" y="0" font-size="15.2" stroke="#000" stroke-width="0.6" textLength="23.30" lengthAdjust="spacingAndGlyphs">cell</text>
<text transform="translate(15.6,167.30) rotate(-90)" x="0" y="0" font-size="15.2" stroke="#000" stroke-width="0.6" textLength="51.10" lengthAdjust="spacingAndGlyphs">number</text>
<text transform="translate(15.6,107.80) rotate(-90)" x="0" y="0" font-size="15.2" stroke="#000" stroke-width="0.6" textLength="24.90" lengthAdjust="spacingAndGlyphs">per</text>
<text transform="translate(15.6,78.40) rotate(-90)" x="0" y="0" font-size="15.2" stroke="#000" stroke-width="0.6" textLength="31.70" lengthAdjust="spacingAndGlyphs">dish</text>
<path d="M143.9,347.3 L153.1,347.3 M150.1,345.2 L153.3,347.3 L150.1,349.4" stroke="#000" stroke-width="1.1" fill="none"/>
<path d="M413.3,347.3 L422.5,347.3 M419.5,345.2 L422.7,347.3 L419.5,349.4" stroke="#000" stroke-width="1.1" fill="none"/>
</svg>
</body></html>
